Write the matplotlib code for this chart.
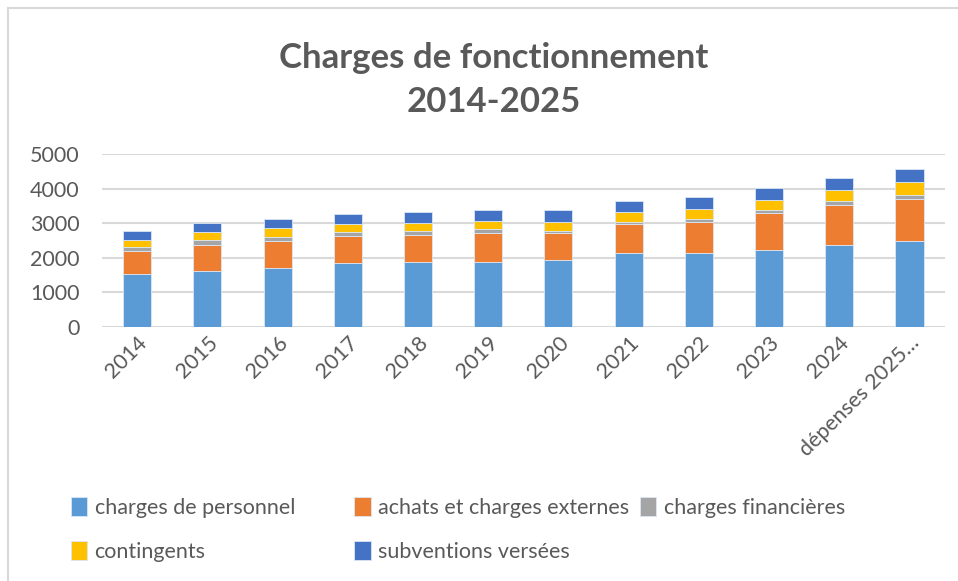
import matplotlib.pyplot as plt
from matplotlib.lines import Line2D
import numpy as np

plt.rcParams['font.family'] = ['Lato', 'DejaVu Sans']

years = ["2014", "2015", "2016", "2017", "2018", "2019", "2020",
         "2021", "2022", "2023", "2024", "dépenses 2025…"]
personnel = [1520, 1630, 1705, 1850, 1890, 1890, 1925, 2150, 2150, 2225, 2370, 2485]
achats = [665, 740, 780, 780, 780, 820, 780, 820, 885, 1080, 1155, 1225]
financieres = [115, 155, 115, 115, 115, 115, 80, 75, 75, 70, 105, 115]
contingents = [220, 220, 250, 220, 220, 250, 260, 290, 300, 300, 335, 365]
subventions = [260, 260, 260, 300, 330, 300, 330, 300, 340, 335, 330, 365]

series = [personnel, achats, financieres, contingents, subventions]
names = ["charges de personnel", "achats et charges externes", "charges financières",
         "contingents", "subventions versées"]
colors = ["#5B9BD5", "#ED7D31", "#A5A5A5", "#FFC000", "#4472C4"]
txt = "#595959"

fig = plt.figure(figsize=(9.58, 5.81), dpi=100)
ax = fig.add_axes([0.1065, 0.437, 0.8795, 0.298])

x = np.arange(len(years))
bottom = np.zeros(len(years))
bars = []
for vals, name, c in zip(series, names, colors):
    b = ax.bar(x, vals, 0.4, bottom=bottom, color=c, edgecolor="#dbe6f4",
               linewidth=0.6, label=name, zorder=3)
    bars.append(b)
    bottom += np.array(vals)

ax.set_xlim(-0.5, len(years) - 0.5)
ax.set_ylim(0, 5000)
ax.set_yticks(range(0, 5001, 1000))
ax.grid(axis="y", color="#d9d9d9", linewidth=1.5, zorder=0)
for s in ax.spines.values():
    s.set_visible(False)
ax.tick_params(length=0, colors=txt, labelsize=15.5)
ax.tick_params(axis="y", pad=16)
ax.tick_params(axis="x", pad=4)
ax.set_xticks(x)
ax.set_xticklabels(years, rotation=45, ha="right", rotation_mode="anchor")

fig.text(0.515, 0.901, "Charges de fonctionnement", ha="center", va="center",
         fontsize=25, fontweight="bold", color=txt)
fig.text(0.515, 0.825, "2014-2025", ha="center", va="center",
         fontsize=25, fontweight="bold", color=txt)

# legend laid out like the Excel one: 3 columns, 2 rows
spots = [(0.074, 0.127), (0.370, 0.127), (0.668, 0.127),
         (0.074, 0.051), (0.370, 0.051)]
for b, name, (lx, ly) in zip(bars, names, spots):
    lg = fig.legend(handles=[b], labels=[name], loc="center left",
                    bbox_to_anchor=(lx, ly), frameon=False, fontsize=15.5,
                    handlelength=0.75, handleheight=1.0, handletextpad=0.35,
                    borderpad=0, borderaxespad=0, labelcolor=txt)

# outer chart frame
fig.add_artist(Line2D([0.008, 0.008], [0, 0.986], color="#d9d9d9", lw=1.5))
fig.add_artist(Line2D([0.008, 1.0], [0.986, 0.986], color="#d9d9d9", lw=1.5))

fig.savefig("out.png", dpi=100)
